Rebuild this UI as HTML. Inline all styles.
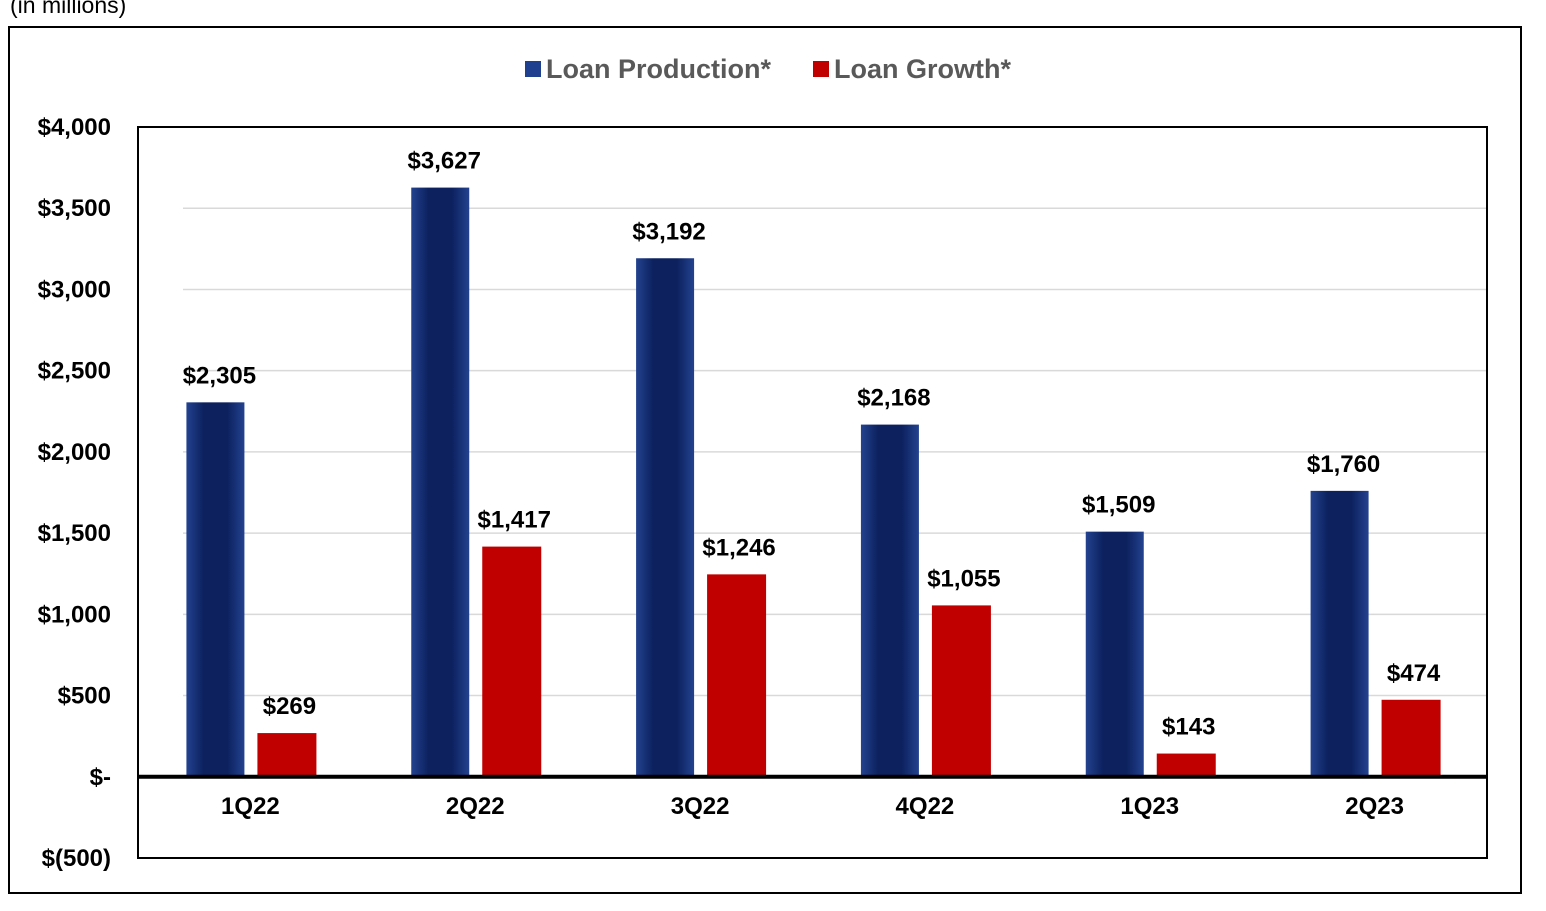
<!DOCTYPE html>
<html><head><meta charset="utf-8"><style>
body{margin:0;background:#fff;}
svg{display:block;font-family:"Liberation Sans",Arial,sans-serif;font-weight:bold;}
</style></head><body>
<svg width="1546" height="911" viewBox="0 0 1546 911">
<defs>
<linearGradient id="bg" x1="0" x2="1" y1="0" y2="0">
<stop offset="0" stop-color="#23428f"/><stop offset="0.3" stop-color="#0c215e"/><stop offset="0.7" stop-color="#0c215e"/><stop offset="1" stop-color="#23428f"/>
</linearGradient>
</defs>
<text x="10" y="13" font-size="23" font-weight="normal" fill="#000">(in millions)</text>
<rect x="9" y="27" width="1512" height="866" fill="none" stroke="#000" stroke-width="2"/>
<g>
<rect x="525" y="61" width="16" height="16" fill="#1f3f8f"/>
<text x="546" y="78" font-size="27" fill="#595959">Loan Production*</text>
<rect x="813" y="61" width="16" height="16" fill="#c00000"/>
<text x="834" y="78" font-size="27" fill="#595959">Loan Growth*</text>
</g>
<g id="grid"></g>
<g id="bars"></g>
<g id="axes"></g>
</svg>
<script>
const categories=["1Q22","2Q22","3Q22","4Q22","1Q23","2Q23"];
const production=[2305,3627,3192,2168,1509,1760];
const growth=[269,1417,1246,1055,143,474];
const yTicks=[4000,3500,3000,2500,2000,1500,1000,500,0,-500];
const yTickLabels=["$4,000","$3,500","$3,000","$2,500","$2,000","$1,500","$1,000","$500","$-","$(500)"];
const NS="http://www.w3.org/2000/svg";
const L=138,R=1487,T=127,B=858,yMin=-500,yMax=4000;
const y=v=>T+(yMax-v)/(yMax-yMin)*(B-T);
const bw=(R-L)/categories.length;
const xc=i=>L+bw*(i+0.5);
function mk(tag,attrs,parent,txt){const e=document.createElementNS(NS,tag);for(const k in attrs)e.setAttribute(k,attrs[k]);if(txt!==undefined)e.textContent=txt;document.getElementById(parent).appendChild(e);return e;}
const fmt=v=>"$"+v.toLocaleString("en-US");
yTicks.forEach((t,i)=>{
  if(t>0&&t<yMax){const g=mk("line",{x1:L+45,x2:R,y1:y(t),y2:y(t),stroke:"#d9d9d9","stroke-width":1.5},"grid");
  
  }
  const tl=mk("text",{x:111,y:y(t)+8,"font-size":24,"text-anchor":"end",fill:"#000"},"axes",yTickLabels[i]);
  
  
});
categories.forEach((c,i)=>{
  const cx=xc(i);
  const b1=mk("rect",{x:cx-64,y:y(production[i]),width:58,height:y(0)-y(production[i]),fill:"url(#bg)"},"bars");
  
  
  const l1=mk("text",{x:cx-31,y:y(production[i])-19,"font-size":24,"text-anchor":"middle",fill:"#000"},"bars",fmt(production[i]));
  
  
  const b2=mk("rect",{x:cx+7,y:y(growth[i]),width:59,height:y(0)-y(growth[i]),fill:"#c00000"},"bars");
  
  
  const l2=mk("text",{x:cx+39,y:y(growth[i])-19,"font-size":24,"text-anchor":"middle",fill:"#000"},"bars",fmt(growth[i]));
  
  
  const xl=mk("text",{x:cx,y:y(0)+37,"font-size":24,"text-anchor":"middle",fill:"#000"},"axes",c);
  
  
});
const pa=mk("rect",{x:L,y:T,width:R-L,height:B-T,fill:"none",stroke:"#000","stroke-width":2},"axes");


const zl=mk("line",{x1:L,x2:R,y1:y(0),y2:y(0),stroke:"#000","stroke-width":4},"axes");


</script>
</body></html>
